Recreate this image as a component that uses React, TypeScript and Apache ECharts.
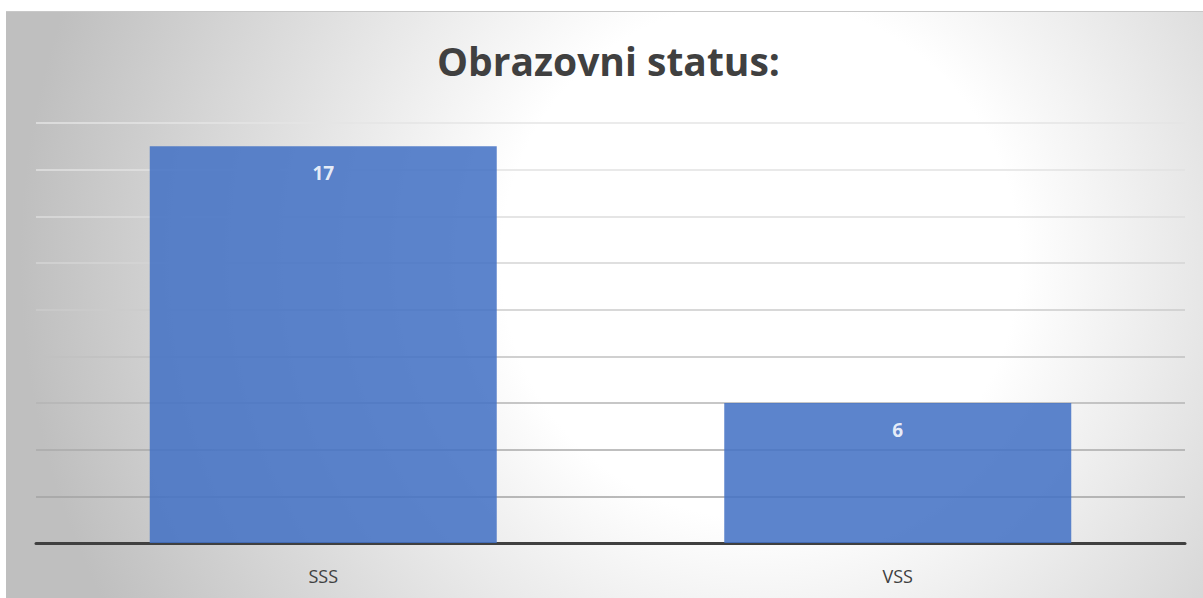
import React, { useEffect, useRef } from "react";
import * as echarts from "echarts";

const categories = ["SSS", "VSS"];
const values = [17, 6];
const titleText = "Obrazovni status:";
const gridColors = ["#8c8c8c", "#a3a3a3", "#aaaaaa", "#b4b4b4", "#c0c0c0", "#cbcbcb", "#d4d4d4", "#dcdcdc", "#e2e2e2", "#e4e4e4"];

export default function App() {
  const ref = useRef<HTMLDivElement>(null);
  useEffect(() => {
    if (!ref.current) return;
    const chart = echarts.init(ref.current, null, { renderer: "svg" });
    chart.setOption({
      animation: false,
      graphic: [
        {
          type: "rect",
          z: -10,
          silent: true,
          shape: { x: 6, y: 11, width: 1197, height: 587 },
          style: {
            fill: {
              type: "radial",
              global: true,
              x: 760,
              y: 260,
              r: 740,
              colorStops: [
                { offset: 0, color: "#ffffff" },
                { offset: 0.35, color: "#ffffff" },
                { offset: 1, color: "#bfbfbf" },
              ],
            },
          },
        },
        {
          type: "line",
          silent: true,
          shape: { x1: 6, y1: 11.5, x2: 1203, y2: 11.5 },
          style: { stroke: "#c8c8c8", lineWidth: 1 },
        },
      ],
      title: {
        text: titleText,
        left: 432,
        top: 36,
        textStyle: {
          fontFamily: "Open Sans",
          fontWeight: "bold",
          fontSize: 39,
          color: "#404040",
        },
      },
      grid: { left: 36, right: 18, top: 123, bottom: 55 },
      xAxis: {
        type: "category",
        data: categories,
        axisLine: { show: true, lineStyle: { color: "#404040", width: 3 } },
        axisTick: { show: false },
        axisLabel: {
          margin: 24,
          fontSize: 18,
          color: "#404040",
          fontFamily: "Open Sans",
        },
      },
      yAxis: {
        type: "value",
        min: 0,
        max: 18,
        interval: 2,
        axisLine: { show: false },
        axisTick: { show: false },
        axisLabel: { show: false },
        splitLine: { show: true, lineStyle: { color: gridColors, width: 1.5 } },
      },
      series: [
        {
          type: "bar",
          data: values,
          barWidth: "60.4%",
          z: 3,
          itemStyle: { color: "#4472c4", opacity: 0.87 },
          label: {
            show: true,
            position: "insideTop",
            distance: 17,
            color: "#ffffff",
            fontWeight: "bold",
            fontSize: 19,
            fontFamily: "Open Sans",
          },
        },
      ],
    });
    return () => chart.dispose();
  }, []);
  return (
    <div
      ref={ref}
      style={{ position: "absolute", left: 0, top: 0, width: 1203, height: 598 }}
    />
  );
}
